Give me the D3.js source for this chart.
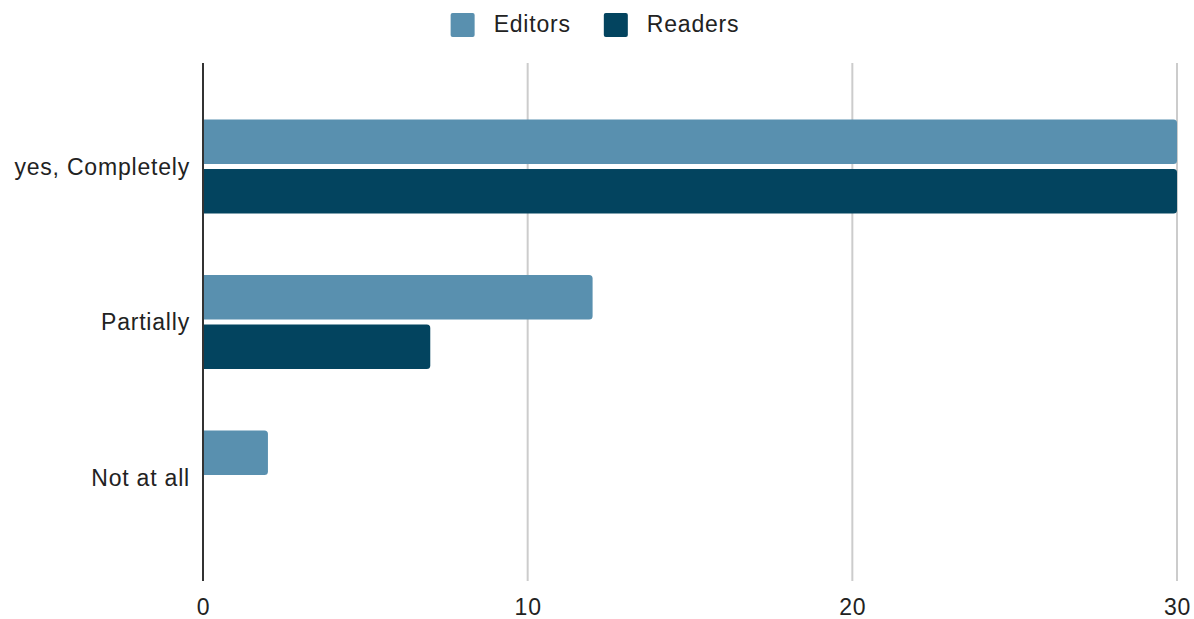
<!DOCTYPE html>
<html>
<head>
<meta charset="utf-8">
<script src="https://cdn.jsdelivr.net/npm/d3@7"></script>
<style>
  html, body { margin: 0; padding: 0; background: #fff; }
  svg { display: block; }
  text { font-family: "Liberation Sans", Arial, sans-serif; fill: #222; }
</style>
</head>
<body>
<svg id="chart" width="1194" height="619"></svg>
<script>
// Survey answers, counted per group
const categories = ["yes, Completely", "Partially", "Not at all"];
const seriesNames = ["Editors", "Readers"];
const editors = [30, 12, 2];
const readers = [30, 7, 0];
const xTicks = [0, 10, 20, 30];
const colors = { Editors: "#5990af", Readers: "#03445f" };

const rows = categories.map((c, i) => ({ category: c, Editors: editors[i], Readers: readers[i] }));

const svg = d3.select("#chart");
const plotLeft = 203, plotRight = 1177, plotTop = 63, plotBottom = 581;
const fontSize = 23, letterSp = "0.8px";

const x = d3.scaleLinear().domain([0, 30]).range([plotLeft, plotRight]);
const y = d3.scaleBand().domain(categories).range([plotTop, plotBottom])
  .paddingInner(0.395).paddingOuter(0.363);
const ySub = d3.scaleBand().domain(seriesNames).range([0, y.bandwidth()]).paddingInner(0.1);

// vertical gridlines
svg.append("g").selectAll("line")
  .data(xTicks.filter(t => t !== 0))
  .join("line")
  .attr("x1", d => x(d)).attr("x2", d => x(d))
  .attr("y1", plotTop).attr("y2", plotBottom)
  .attr("stroke", "#cccccc").attr("stroke-width", 2);

// bars with rounded right end
function barPath(x0, x1, y0, h, r) {
  const w = x1 - x0;
  if (w <= 0) return "";
  r = Math.min(r, w / 2, h / 2);
  return `M${x0},${y0}H${x1 - r}Q${x1},${y0} ${x1},${y0 + r}V${y0 + h - r}Q${x1},${y0 + h} ${x1 - r},${y0 + h}H${x0}Z`;
}

const groups = svg.append("g").selectAll("g")
  .data(rows).join("g")
  .attr("transform", d => `translate(0,${y(d.category)})`);

groups.selectAll("path")
  .data(d => seriesNames.map(s => ({ key: s, value: d[s] })))
  .join("path")
  .attr("d", d => barPath(x(0), x(d.value), ySub(d.key), ySub.bandwidth(), 3.5))
  .attr("fill", d => colors[d.key]);

// left axis line
svg.append("line")
  .attr("x1", x(0)).attr("x2", x(0))
  .attr("y1", plotTop).attr("y2", plotBottom)
  .attr("stroke", "#333").attr("stroke-width", 2);

// x axis tick labels
const xAxis = d3.axisBottom(x).tickValues(xTicks).tickSize(0).tickPadding(0).tickFormat(d3.format("d"));
const gx = svg.append("g").attr("transform", `translate(0,${plotBottom})`).call(xAxis);
gx.select(".domain").remove();
gx.selectAll("text")
  .attr("y", 33.5).attr("dy", null)
  .style("font-size", fontSize + "px")
  .style("letter-spacing", letterSp)
  .style("font-family", '"Liberation Sans", Arial, sans-serif')
  .attr("fill", "#222");

// category labels
const yAxis = d3.axisLeft(y).tickSize(0).tickPadding(13);
const gy = svg.append("g").attr("transform", `translate(${plotLeft},0)`).call(yAxis);
gy.select(".domain").remove();
gy.selectAll("text")
  .attr("dy", "0.36em")
  .style("font-size", fontSize + "px")
  .style("letter-spacing", letterSp)
  .style("font-family", '"Liberation Sans", Arial, sans-serif')
  .attr("fill", "#222");

// legend, centred above the plot
const legend = svg.append("g");
const items = legend.selectAll("g").data(seriesNames).join("g");
items.append("rect")
  .attr("width", 24).attr("height", 24).attr("y", 13).attr("rx", 2)
  .attr("fill", d => colors[d]);
items.append("text")
  .attr("x", 43).attr("y", 32)
  .style("font-size", fontSize + "px")
  .style("letter-spacing", letterSp)
  .text(d => d);
let offset = 0;
const positions = [];
items.each(function () {
  const tw = d3.select(this).select("text").node().getComputedTextLength();
  positions.push(offset);
  offset += 43 + tw + 33;
});
const total = offset - 33;
const startX = 595 - total / 2;
items.attr("transform", (d, i) => `translate(${startX + positions[i]},0)`);
</script>
</body>
</html>
